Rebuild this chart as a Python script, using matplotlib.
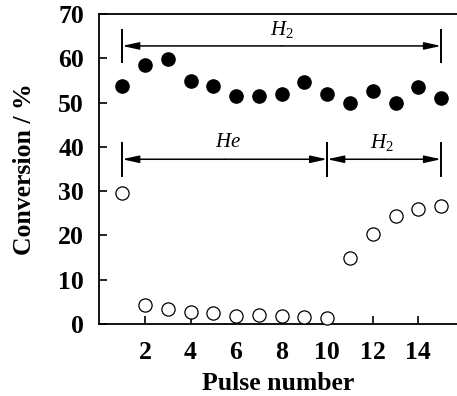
import matplotlib
matplotlib.use("Agg")
import matplotlib.pyplot as plt

plt.rcParams['font.family'] = ['Liberation Serif', 'DejaVu Serif']
plt.rcParams['mathtext.fontset'] = 'custom'
plt.rcParams['mathtext.it'] = 'Liberation Serif:italic'
plt.rcParams['mathtext.rm'] = 'Liberation Serif'

pulse = list(range(1, 16))
conv_filled = [53.8, 58.6, 59.9, 54.8, 53.8, 51.5, 51.5, 52.0, 54.6, 51.9, 49.9, 52.6, 49.8, 53.6, 51.1]
conv_open = [29.5, 4.2, 3.4, 2.8, 2.5, 1.9, 2.1, 1.9, 1.6, 1.3, 14.9, 20.4, 24.3, 26.0, 26.7]

# gas regions: (start pulse, end pulse, level, label, label x)
top_region = (1, 15, 62.8, r'$\mathit{H}_2$', 8.0)
low_regions = [(1, 10, 37.2, r'$\mathit{He}$', 5.65), (10, 15, 37.2, r'$\mathit{H}_2$', 12.4)]

fig = plt.figure(figsize=(4.57, 3.96), dpi=100)
ax = fig.add_axes([0.2175, 0.182, 0.7825, 0.7825])

ax.plot(pulse, conv_filled, 'o', color='black', markersize=9.5, clip_on=False, zorder=3)
ax.plot(pulse, conv_open, 'o', markerfacecolor='white', markeredgecolor='black',
        markeredgewidth=0.9, markersize=9.5, clip_on=False, zorder=3)


def span(x0, x1, y, half):
    for xb in (x0, x1):
        ax.plot([xb, xb], [y - half, y + half], color='black', lw=1.4)
    xm = (x0 + x1) / 2
    for xs in (x0, x1):
        ax.annotate('', xy=(xs, y), xytext=(xm, y),
                    arrowprops=dict(arrowstyle='-|>,head_length=1.0,head_width=0.22',
                                    color='black', lw=1.1, shrinkA=0, shrinkB=0))


x0, x1, y, lab, lx = top_region
span(x0, x1, y, 3.6)
ax.text(lx, y + 3.6, lab, ha='center', va='center', fontsize=15)
for x0, x1, y, lab, lx in low_regions:
    span(x0, x1, y, 3.7)
    ax.text(lx, y + 3.8, lab, ha='center', va='center', fontsize=15)

ax.set_xlim(0, 15.7)
ax.set_ylim(0, 70)
ax.set_xticks([2, 4, 6, 8, 10, 12, 14])
ax.set_yticks([0, 10, 20, 30, 40, 50, 60, 70])
ax.tick_params(direction='in', length=6, width=1.2, labelsize=18.5)
ax.tick_params(axis='x', pad=12)
ax.tick_params(axis='y', pad=11)
for t in ax.get_xticklabels() + ax.get_yticklabels():
    t.set_fontweight('bold')
ax.spines['right'].set_visible(False)
for s in ('left', 'bottom', 'top'):
    ax.spines[s].set_linewidth(1.3)

ax.set_xlabel('Pulse number', fontsize=18.5, fontweight='bold', labelpad=6)
ax.set_ylabel('Conversion / %', fontsize=18.5, fontweight='bold', labelpad=16)

fig.savefig('out.png', dpi=100)
